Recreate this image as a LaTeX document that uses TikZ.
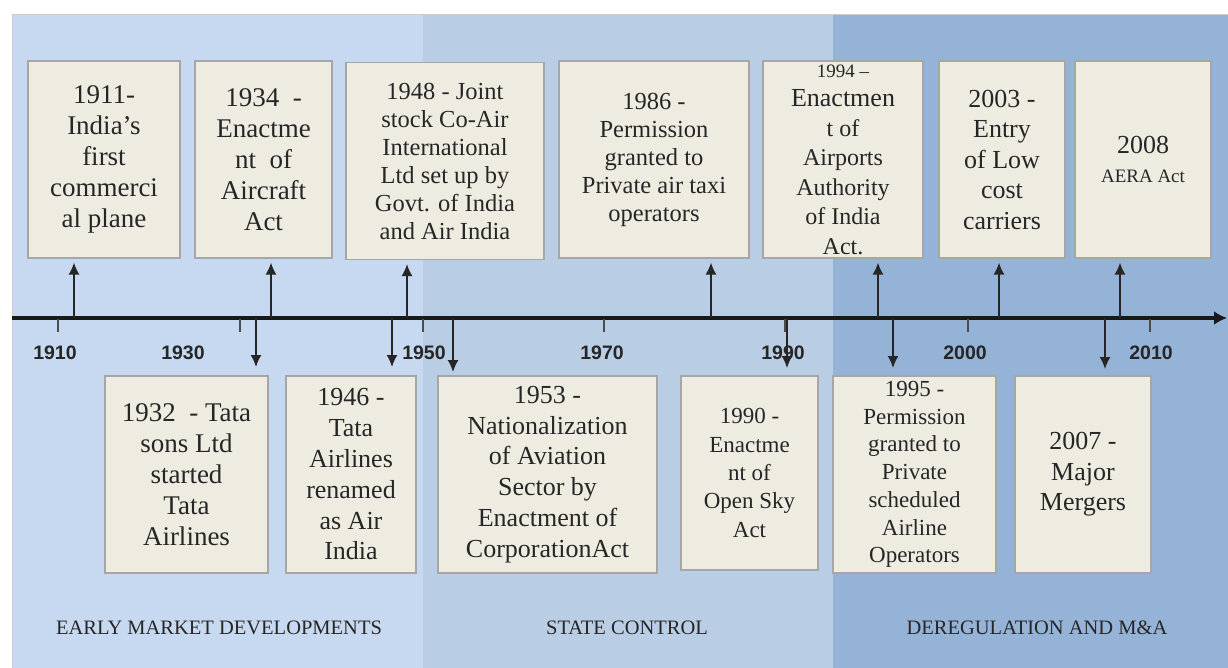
\documentclass[tikz,border=0pt]{standalone}
\usepackage{fontspec}
\setmainfont{Liberation Serif}
\newfontfamily\axisfont{Liberation Sans}
\usetikzlibrary{arrows.meta}
\definecolor{panelA}{HTML}{C6D9F1}
\definecolor{panelB}{HTML}{B9CDE5}
\definecolor{panelC}{HTML}{95B3D7}
\definecolor{boxfill}{HTML}{EEECE1}
\definecolor{boxline}{HTML}{A6A6A6}
\definecolor{textc}{HTML}{262626}
\tikzset{
  evbox/.style={draw=boxline, fill=boxfill, line width=1.2pt, inner sep=0pt,
    text=textc, align=center, font=\fontsize{27}{31}\selectfont},
  midfont/.style={font=\fontsize{24.5}{28}\selectfont},
  upar/.style={-{Latex[length=12pt,width=11pt]}, line width=1.6pt, draw=black!85, shorten >=4pt},
  dnar/.style={-{Latex[length=12pt,width=11pt]}, line width=1.6pt, draw=black!85},
  tickmark/.style={line width=1.2pt, draw=black!70},
  yearlbl/.style={font=\axisfont\bfseries\fontsize{19.5}{22}\selectfont, text=black!85},
  phaselbl/.style={font=\fontsize{20.5}{23}\selectfont, text=textc},
}
\begin{document}
\begin{tikzpicture}[x=1pt,y=-1pt]
\useasboundingbox (0,0) rectangle (1228,668);
% panels
\fill[white] (0,0) rectangle (1228,668);
\fill[panelA] (12,15) rectangle (423,668);
\fill[panelB] (423,15) rectangle (833,668);
\fill[panelC] (833,15) rectangle (1228,668);
\draw[black!20, line width=1pt] (12,668) -- (12,15) -- (1228,15);

% top boxes
\node[evbox, minimum width=152pt, minimum height=197pt] (b1911) at (104,159.5)
  {1911-\\India's\\first\\commerci\\al plane};
\node[evbox, minimum width=137pt, minimum height=197pt] (b1934) at (263.5,159.5)
  {1934\ \ -\\Enactme\\nt\ \ of\\Aircraft\\Act};
\node[evbox, midfont, minimum width=198pt, minimum height=197pt] (b1948) at (445,161)
  {1948 - Joint\\stock Co-Air\\International\\Ltd set up by\\Govt. of India\\and Air India};
\node[evbox, midfont, minimum width=190pt, minimum height=197pt] (b1986) at (654,159.5)
  {1986 -\\Permission\\granted to\\Private air taxi\\operators};
\node[evbox, font=\fontsize{24}{29.5}\selectfont, minimum width=160pt, minimum height=197pt] (b1994) at (843,159.5)
  {{\fontsize{19}{22}\selectfont 1994 --}\\{\fontsize{26}{30}\selectfont Enactmen}\\t of\\Airports\\Authority\\of India\\Act.};
\node[evbox, font=\fontsize{26}{30.5}\selectfont, minimum width=126pt, minimum height=197pt] (b2003) at (1002,159.5)
  {2003 -\\Entry\\of Low\\cost\\carriers};
\node[evbox, font=\fontsize{26}{29}\selectfont, minimum width=136pt, minimum height=197pt] (b2008) at (1143,159.5)
  {2008\\{\fontsize{19}{22}\selectfont AERA Act}};

% bottom boxes
\node[evbox, minimum width=163pt, minimum height=197pt] (b1932) at (186.5,474.5)
  {1932\ \ - Tata\\sons Ltd\\started\\Tata\\Airlines};
\node[evbox, font=\fontsize{26}{30.8}\selectfont, minimum width=130pt, minimum height=197pt] (b1946) at (351,474.5)
  {1946 -\\Tata\\Airlines\\renamed\\as Air\\India};
\node[evbox, font=\fontsize{26}{30.8}\selectfont, minimum width=219pt, minimum height=197pt] (b1953) at (547.5,474.5)
  {1953 -\\Nationalization\\of Aviation\\Sector by\\Enactment of\\CorporationAct};
\node[evbox, font=\fontsize{23}{28.3}\selectfont, minimum width=137pt, minimum height=194pt] (b1990) at (749.5,473)
  {1990 -\\Enactme\\nt of\\Open Sky\\Act};
\node[evbox, font=\fontsize{23}{27.7}\selectfont, minimum width=163pt, minimum height=197pt] (b1995) at (914.5,474.5)
  {1995 -\\Permission\\granted to\\Private\\scheduled\\Airline\\Operators};
\node[evbox, font=\fontsize{26}{30.5}\selectfont, minimum width=136pt, minimum height=197pt] (b2007) at (1083,474.5)
  {2007 -\\Major\\Mergers};

% axis
\coordinate (axL) at (12,318);
\coordinate (axR) at (1227,318);
\draw[line width=3.5pt, black!90, -{Latex[length=13pt,width=14pt]}] (axL) -- (axR);

% ticks
\foreach \t/\x in {t1/58, t2/240, t3/423, t4/604, t5/785, t6/968, t7/1150} {
  \coordinate (\t a) at (\x,319);
  \coordinate (\t b) at (\x,332);
  \draw[tickmark] (\t a) -- (\t b);
}

% year labels
\node[yearlbl] (y1910) at (55,353) {1910};
\node[yearlbl] (y1930) at (183,353) {1930};
\node[yearlbl] (y1950) at (424,353) {1950};
\node[yearlbl] (y1970) at (602,353) {1970};
\node[yearlbl] (y1990) at (783,353) {1990};
\node[yearlbl] (y2000) at (965,353) {2000};
\node[yearlbl] (y2010) at (1151,353) {2010};

% up arrows
\foreach \n/\x in {b1911/74, b1934/271, b1948/407, b1986/711, b1994/878, b2003/999, b2008/1120} {
  \coordinate (\n o) at (\x,318);
  \draw[upar] (\n o) -- (\n o |- \n.south);
}
% down arrows
\foreach \n/\x/\y in {b1932/256/367, b1946/392/367, b1953/453/372, b1990/787/368, b1995/893/368, b2007/1105/369} {
  \coordinate (\n o) at (\x,318);
  \coordinate (\n e) at (\x,\y);
  \draw[dnar] (\n o) -- (\n e);
}

% phase labels
\node[phaselbl] (pA) at (219,628) {EARLY MARKET DEVELOPMENTS};
\node[phaselbl] (pB) at (627,628) {STATE CONTROL};
\node[phaselbl] (pC) at (1037,628) {DEREGULATION AND M\&A};
\end{tikzpicture}
\end{document}
